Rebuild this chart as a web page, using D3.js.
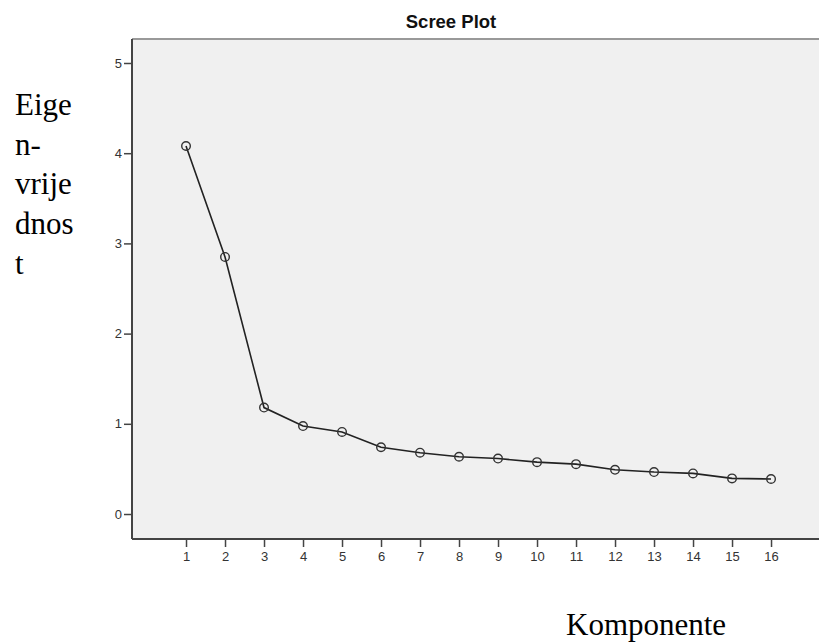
<!DOCTYPE html>
<html>
<head>
<meta charset="utf-8">
<script src="https://cdn.jsdelivr.net/npm/d3@7"></script>
<style>
  html, body { margin: 0; padding: 0; background: #fff; }
  svg { display: block; }
</style>
</head>
<body>
<div id="chart"></div>
<script>
// 成分番号
const components = [1, 2, 3, 4, 5, 6, 7, 8, 9, 10, 11, 12, 13, 14, 15, 16];
// 固有値
const eigenvalues = [4.08, 2.85, 1.18, 0.975, 0.91, 0.74, 0.68, 0.635, 0.615, 0.575, 0.553, 0.49, 0.465, 0.45, 0.395, 0.388];
// 目盛り
const yTicks = [0, 1, 2, 3, 4, 5];

const titleText = "Scree Plot";
const yLabelLines = ["Eige", "n-", "vrije", "dnos", "t"];
const xLabelText = "Komponente";

const width = 819;
const height = 644;

// プロット領域
const plot = { left: 132, top: 39, right: 819, bottom: 539 };

const svg = d3.select("#chart").append("svg")
  .attr("width", width)
  .attr("height", height);

const x = d3.scaleLinear()
  .domain([-0.385, 17.23])
  .range([plot.left, plot.right]);

const y = d3.scaleLinear()
  .domain([-0.277, 5.266])
  .range([plot.bottom, plot.top]);

// 背景
svg.append("rect")
  .attr("x", plot.left)
  .attr("y", plot.top)
  .attr("width", plot.right - plot.left)
  .attr("height", plot.bottom - plot.top)
  .attr("fill", "#f0f0f0");

// 上の枠線
svg.append("line")
  .attr("x1", plot.left).attr("x2", plot.right)
  .attr("y1", plot.top).attr("y2", plot.top)
  .attr("stroke", "#999").attr("stroke-width", 2);

// 軸
const yAxis = svg.append("g")
  .attr("transform", `translate(${plot.left},0)`)
  .call(d3.axisLeft(y).tickValues(yTicks).tickFormat(d3.format("d"))
    .tickSize(8).tickSizeOuter(0).tickPadding(2));

const xAxis = svg.append("g")
  .attr("transform", `translate(0,${plot.bottom})`)
  .call(d3.axisBottom(x).tickValues(components).tickFormat(d3.format("d"))
    .tickSize(8).tickSizeOuter(0).tickPadding(5));

[yAxis, xAxis].forEach(ax => {
  ax.select(".domain").attr("stroke", "#444").attr("stroke-width", 2);
  ax.selectAll(".tick line").attr("stroke", "#444").attr("stroke-width", 1.5);
  ax.selectAll(".tick text")
    .attr("fill", "#333")
    .attr("font-family", "Liberation Sans, Arial, sans-serif")
    .attr("font-size", 13);
});
// ドメイン線をプロット領域全体へ
yAxis.select(".domain").attr("d", `M0,${plot.top}V${plot.bottom}`);
xAxis.select(".domain").attr("d", `M${plot.left},0H${plot.right}`);

// 折れ線
const line = d3.line()
  .x((d, i) => x(components[i]))
  .y(d => y(d));

svg.append("path")
  .datum(eigenvalues)
  .attr("d", line)
  .attr("fill", "none")
  .attr("stroke", "#222")
  .attr("stroke-width", 1.6);

// マーカー
svg.append("g")
  .selectAll("circle")
  .data(eigenvalues)
  .join("circle")
    .attr("cx", (d, i) => x(components[i]))
    .attr("cy", d => y(d))
    .attr("r", 4.3)
    .attr("fill", "none")
    .attr("stroke", "#333")
    .attr("stroke-width", 1.4);

// タイトル
svg.append("text")
  .attr("x", 451)
  .attr("y", 28)
  .attr("text-anchor", "middle")
  .attr("font-family", "Liberation Sans, Arial, sans-serif")
  .attr("font-weight", "bold")
  .attr("font-size", 18.5)
  .attr("fill", "#111")
  .text(titleText);

// 縦軸ラベル（折り返し）
svg.append("text")
  .attr("font-family", "Liberation Serif, Times New Roman, serif")
  .attr("font-size", 31)
  .attr("fill", "#000")
  .selectAll("tspan")
  .data(yLabelLines)
  .join("tspan")
    .attr("x", 15)
    .attr("y", (d, i) => 115 + i * 39.7)
    .text(d => d);

// 横軸ラベル
svg.append("text")
  .attr("x", 566)
  .attr("y", 635)
  .attr("font-family", "Liberation Serif, Times New Roman, serif")
  .attr("font-size", 31)
  .attr("fill", "#000")
  .text(xLabelText);
</script>
</body>
</html>
